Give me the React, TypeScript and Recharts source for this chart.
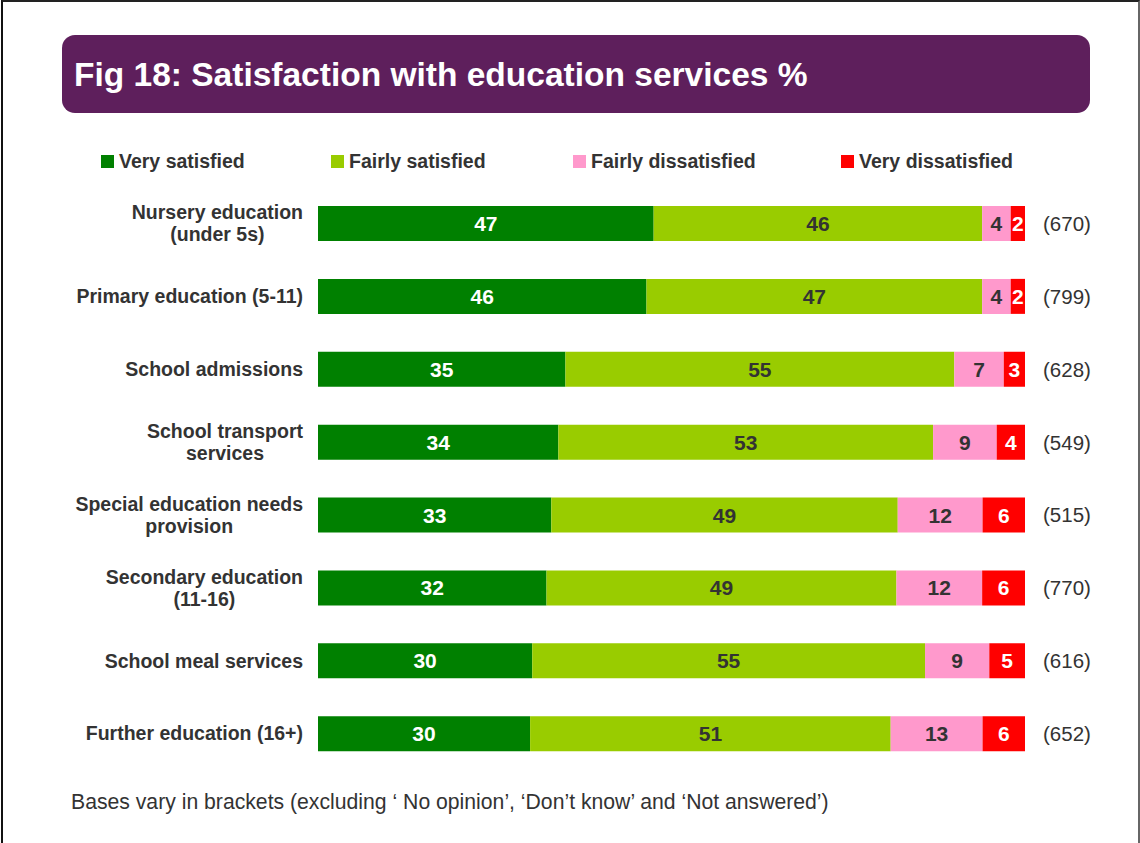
import React from 'react'
import { BarChart, Bar, XAxis, YAxis, LabelList } from 'recharts'

const categories = [
  'Nursery education\n(under 5s)',
  'Primary education (5-11)',
  'School admissions',
  'School transport\nservices',
  'Special education needs\nprovision',
  'Secondary education\n(11-16)',
  'School meal services',
  'Further education (16+)',
]
const verySatisfied = [47, 46, 35, 34, 33, 32, 30, 30]
const fairlySatisfied = [46, 47, 55, 53, 49, 49, 55, 51]
const fairlyDissatisfied = [4, 4, 7, 9, 12, 12, 9, 13]
const veryDissatisfied = [2, 2, 3, 4, 6, 6, 5, 6]
const bases = [670, 799, 628, 549, 515, 770, 616, 652]

const series = [
  { key: 'vs', name: 'Very satisfied', color: '#008000', text: '#ffffff', values: verySatisfied },
  { key: 'fs', name: 'Fairly satisfied', color: '#99cc00', text: '#333333', values: fairlySatisfied },
  { key: 'fd', name: 'Fairly dissatisfied', color: '#ff99cc', text: '#333333', values: fairlyDissatisfied },
  { key: 'vd', name: 'Very dissatisfied', color: '#ff0000', text: '#ffffff', values: veryDissatisfied },
]

const data = categories.map((cat, i) => {
  const row: Record<string, string | number> = { cat }
  series.forEach((s) => { row[s.key] = s.values[i] })
  return row
})

const FONT = '"Liberation Sans", Arial, sans-serif'
const TEXT = '#333333'

let measureCtx: CanvasRenderingContext2D | null = null
function textWidth(s: string, font: string) {
  if (!measureCtx) measureCtx = document.createElement('canvas').getContext('2d')
  if (!measureCtx) return s.length * 10
  measureCtx.font = font
  return measureCtx.measureText(s).width
}

// multi-line labels are centred as a block, block right-aligned to the axis
function CategoryTick(props: any) {
  const { x, y, payload } = props
  const lines = String(payload.value).split('\n')
  const widest = Math.max(...lines.map((l) => textWidth(l, `bold 19.5px ${FONT}`)))
  const cx = x - widest / 2
  const lh = 22
  const y0 = y - ((lines.length - 1) * lh) / 2
  return (
    <text x={cx} textAnchor="middle" fill={TEXT} fontFamily={FONT} fontSize={19.5} fontWeight="bold">
      {lines.map((l, i) => (
        <tspan key={i} x={cx} y={y0 + i * lh} dy="0.35em">{l}</tspan>
      ))}
    </text>
  )
}

function makeValueLabel(values: number[], color: string) {
  return (props: any) => {
    const { x, y, width, height, index } = props
    return (
      <text x={x + width / 2} y={y + height / 2} dy="0.36em" textAnchor="middle"
        fill={color} fontFamily={FONT} fontSize={21} fontWeight="bold">
        {values[index]}
      </text>
    )
  }
}

function BaseLabel(props: any) {
  const { x, y, width, height, index } = props
  return (
    <text x={x + width + 18} y={y + height / 2} dy="0.36em" textAnchor="start"
      fill={TEXT} fontFamily={FONT} fontSize={20.5}>
      ({bases[index]})
    </text>
  )
}

const legendX = [101, 331, 573, 841]

export default function App() {
  return (
    <div style={{ position: 'absolute', left: 0, top: 0, width: 1140, height: 843, background: '#fff', overflow: 'hidden', fontFamily: FONT }}>
      <div style={{ position: 'absolute', left: 1, top: 0, width: 1135, height: 900, borderLeft: '2px solid #111', borderTop: '2px solid #222', borderRight: '2px solid #666' }} />
      <div style={{ position: 'absolute', left: 62, top: 35, width: 1028, height: 78, background: '#5e1f5c', borderRadius: 13 }} />
      <div style={{ position: 'absolute', left: 74, top: 36, height: 78, lineHeight: '78px', color: '#fff', fontSize: 33.5, fontWeight: 'bold', whiteSpace: 'nowrap' }}>
        Fig 18: Satisfaction with education services %
      </div>
      {series.map((s, i) => (
        <div key={s.key} style={{ position: 'absolute', left: legendX[i], top: 150, height: 22, display: 'flex', alignItems: 'center', color: TEXT, fontSize: 19.5, fontWeight: 'bold', whiteSpace: 'nowrap' }}>
          <span style={{ display: 'inline-block', width: 13, height: 13, background: s.color, marginRight: 5 }} />
          {s.name}
        </div>
      ))}
      <div style={{ position: 'absolute', left: 0, top: 0 }}>
        <BarChart width={1140} height={843} data={data} layout="vertical" stackOffset="expand"
          barSize={35} margin={{ top: 187, right: 115, bottom: 73, left: 8 }}>
          <XAxis type="number" hide domain={[0, 1]} />
          <YAxis type="category" dataKey="cat" width={310} axisLine={false} tickLine={false}
            tickSize={0} tickMargin={15} interval={0} tick={<CategoryTick />} />
          {series.map((s, si) => (
            <Bar key={s.key} dataKey={s.key} name={s.name} stackId="a" fill={s.color} isAnimationActive={false}>
              <LabelList dataKey={s.key} content={makeValueLabel(s.values, s.text)} />
              {si === series.length - 1 && <LabelList dataKey={s.key} content={BaseLabel} />}
            </Bar>
          ))}
        </BarChart>
      </div>
      <div style={{ position: 'absolute', left: 71, top: 790, lineHeight: '24px', color: TEXT, fontSize: 21.2, whiteSpace: 'nowrap' }}>
        Bases vary in brackets (excluding ‘ No opinion’, ‘Don’t know’ and ‘Not answered’)
      </div>
    </div>
  )
}
